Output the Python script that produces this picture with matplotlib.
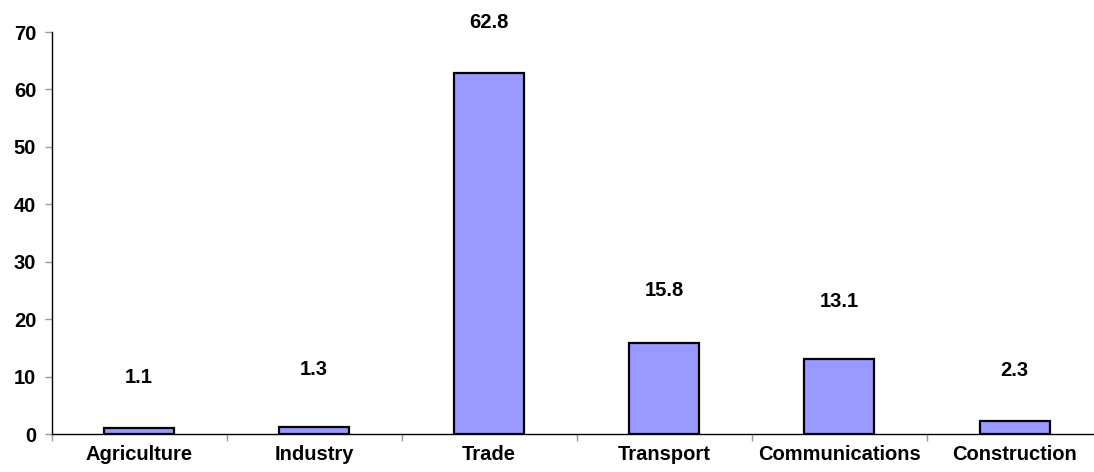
import matplotlib
matplotlib.use("Agg")
import matplotlib.pyplot as plt
import numpy as np

categories = ["Agriculture", "Industry", "Trade", "Transport", "Communications", "Construction"]
values = [1.1, 1.3, 62.8, 15.8, 13.1, 2.3]
label_offsets_px = [50, 57, 51, 53, 57, 50]  # label placement above bar tops (styling)

plt.rcParams['font.family'] = ['Liberation Sans', 'DejaVu Sans']
plt.rcParams['font.weight'] = 'bold'
FS = 14.5

fig = plt.figure(figsize=(10.94, 4.72), dpi=100)
ax = fig.add_axes([51.5/1094, 38/472, 1050.6/1094, 402/472])

x = np.arange(len(categories))
ax.bar(x, values, width=0.4, color="#9999FF", edgecolor="black", linewidth=1.6, zorder=3)

for xi, v, off in zip(x, values, label_offsets_px):
    ax.annotate(f"{v:.1f}", (xi, v), xytext=(0, off * 72 / 100), textcoords="offset points",
                ha="center", va="center", fontsize=FS, fontweight="bold", annotation_clip=False)

ax.set_xlim(-0.5, len(categories) - 0.5)
ax.set_ylim(0, 70)
ax.set_yticks(np.arange(0, 71, 10))
ax.set_yticklabels([str(t) for t in range(0, 71, 10)], fontsize=FS, fontweight="bold")

ax.set_xticks(x)
ax.set_xticklabels(categories, fontsize=FS, fontweight="bold")
ax.tick_params(axis="x", which="major", length=0, pad=8)
ax.set_xticks(np.arange(-0.5, len(categories), 1.0), minor=True)
ax.tick_params(axis="x", which="minor", length=5, color="#999999", width=1)
ax.tick_params(axis="y", length=5, color="#999999", width=1, pad=6)

ax.spines["top"].set_visible(False)
ax.spines["right"].set_visible(False)
ax.spines["left"].set_linewidth(1.0)
ax.spines["bottom"].set_linewidth(1.0)

fig.savefig("out.png", dpi=100)
